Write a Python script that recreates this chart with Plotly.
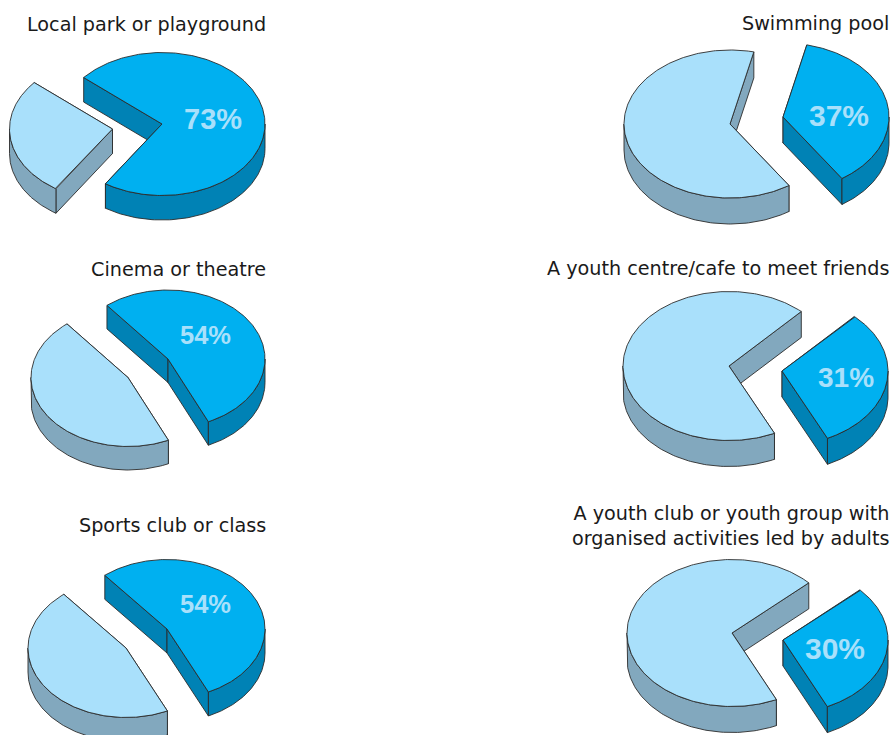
import numpy as np
import plotly.graph_objects as go

# Survey results: share of young people naming each place
titles = [
    "Local park or playground",
    "Swimming pool",
    "Cinema or theatre",
    "A youth centre/cafe to meet friends",
    "Sports club or class",
    "A youth club or youth group with<br>organised activities led by adults",
]
shares = [73, 37, 54, 31, 54, 30]

# Placement of each pie on the page, in pixels
highlight_apex_x = [162, 783, 168, 782, 167, 783]
highlight_apex_y = [124, 117, 359, 371, 629, 640]
rest_apex_x = [112.5, 730, 128, 729, 126, 732]
rest_apex_y = [129, 124, 377.5, 366, 648, 633]
radius_x = [103, 106, 97, 106, 98, 105]
radius_y = [71.5, 74, 69, 74.5, 69.5, 73.5]
depths = [24.5, 26, 23.5, 26, 24, 26]
start_angles = [139.5, 77, 129, 47, 129.4, 43]

# Title and value label placement
title_x = [268, 891, 268, 891, 268, 891]
title_y = [24, 23, 269, 268, 525, 526]
label_x = [213, 839, 205.5, 846, 205, 835]
label_y = [119, 115, 335, 377, 604, 648]
label_sizes = [29, 30, 25.5, 28, 25.5, 30]

HIGHLIGHT_TOP, HIGHLIGHT_SIDE = "#00B0F0", "#0082B5"
REST_TOP, REST_SIDE = "#A9E0FB", "#82A8BE"
EDGE = "#2b2b2b"
TITLE_FONT = "DejaVu Sans"
TITLE_SIZE = 19.2


def polygon(xs, ys, fill):
    return go.Scatter(
        x=list(xs), y=list(ys), mode="lines", fill="toself", fillcolor=fill,
        line=dict(color=EDGE, width=0.9), hoverinfo="skip", showlegend=False,
    )


def wedge(cx, cy, rx, ry, depth, hi, lo, top, side):
    """Extruded pie wedge running clockwise from angle hi to angle lo (degrees)."""
    def ring(angles):
        rad = np.radians(angles)
        return cx + rx * np.cos(rad), cy - ry * np.sin(rad)

    traces = []
    # Straight cut faces, rear one first; the top face hides whichever looks away
    for angle in sorted((hi, lo), key=lambda a: -np.sin(np.radians(a))):
        ex, ey = ring(np.array([angle]))
        traces.append(polygon(
            [cx, ex[0], ex[0], cx, cx],
            [cy, ey[0], ey[0] + depth, cy + depth, cy],
            side,
        ))
    # Curved rim, only along the half of the ellipse facing the viewer
    front = np.linspace(min(hi, 0), max(lo, -180), 90)
    fx, fy = ring(front)
    traces.append(polygon(
        np.r_[fx, fx[::-1], fx[0]],
        np.r_[fy, fy[::-1] + depth, fy[0]],
        side,
    ))
    # Top face
    tx, ty = ring(np.linspace(hi, lo, 240))
    traces.append(polygon(np.r_[cx, tx, cx], np.r_[cy, ty, cy], top))
    return traces


fig = go.Figure()
annotations = []

for i, share in enumerate(shares):
    a0 = start_angles[i]
    a1 = a0 - 3.6 * share
    a2 = a0 - 360
    fig.add_traces(wedge(rest_apex_x[i], rest_apex_y[i], radius_x[i], radius_y[i],
                         depths[i], a1, a2, REST_TOP, REST_SIDE))
    fig.add_traces(wedge(highlight_apex_x[i], highlight_apex_y[i], radius_x[i], radius_y[i],
                         depths[i], a0, a1, HIGHLIGHT_TOP, HIGHLIGHT_SIDE))
    annotations.append(dict(
        x=title_x[i], y=title_y[i], text=titles[i], showarrow=False,
        xanchor="right", yanchor="middle", align="right",
        font=dict(family=TITLE_FONT, size=TITLE_SIZE, color="#1a1a1a"),
    ))
    annotations.append(dict(
        x=label_x[i], y=label_y[i], text=f"<b>{share}%</b>", showarrow=False,
        xanchor="center", yanchor="middle",
        font=dict(family="Liberation Sans", size=label_sizes[i], color="#A9E0FB"),
    ))

fig.update_layout(
    width=892, height=735, margin=dict(l=0, r=0, t=0, b=0),
    paper_bgcolor="white", plot_bgcolor="white", showlegend=False,
    annotations=annotations,
    xaxis=dict(range=[0, 892], visible=False, fixedrange=True),
    yaxis=dict(range=[735, 0], visible=False, fixedrange=True),
)
fig.write_html("out.html", config=dict(displayModeBar=False))
